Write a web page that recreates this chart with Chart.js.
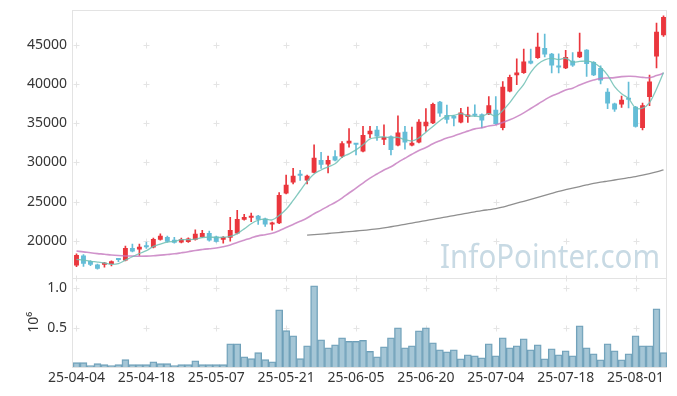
<!DOCTYPE html>
<html>
<head>
<meta charset="utf-8">
<script src="https://cdn.jsdelivr.net/npm/chart.js@4.4.1/dist/chart.umd.min.js"></script>
<style>
  html, body { margin: 0; padding: 0; background: #fff; }
</style>
</head>
<body>
<canvas id="stock" width="677" height="396"></canvas>
<script>
// trading days (KRX), 25-04-04 .. 25-08-07
const dates = [
  '25-04-04','25-04-07','25-04-08','25-04-09','25-04-10','25-04-11','25-04-14','25-04-15','25-04-16','25-04-17',
  '25-04-18','25-04-21','25-04-22','25-04-23','25-04-24','25-04-25','25-04-28','25-04-29','25-04-30','25-05-02',
  '25-05-07','25-05-08','25-05-09','25-05-12','25-05-13','25-05-14','25-05-15','25-05-16','25-05-19','25-05-20',
  '25-05-21','25-05-22','25-05-23','25-05-26','25-05-27','25-05-28','25-05-29','25-05-30','25-06-02','25-06-04',
  '25-06-05','25-06-09','25-06-10','25-06-11','25-06-12','25-06-13','25-06-16','25-06-17','25-06-18','25-06-19',
  '25-06-20','25-06-23','25-06-24','25-06-25','25-06-26','25-06-27','25-06-30','25-07-01','25-07-02','25-07-03',
  '25-07-04','25-07-07','25-07-08','25-07-09','25-07-10','25-07-11','25-07-14','25-07-15','25-07-16','25-07-17',
  '25-07-18','25-07-21','25-07-22','25-07-23','25-07-24','25-07-25','25-07-28','25-07-29','25-07-30','25-07-31',
  '25-08-01','25-08-04','25-08-05','25-08-06','25-08-07'
];

const priceTicks = [20000, 25000, 30000, 35000, 40000, 45000];
const volumeTicks = [500000, 1000000];

const opens = [
  16850,18150,17450,17000,16950,17050,17600,17500,19100,18900,
  19250,19150,20150,20500,20150,19800,19850,20150,20500,21000,
  20550,20150,20400,20950,22700,22950,23200,22850,22100,22250,
  26050,27450,28350,27700,28700,30300,29750,30800,30750,32400,
  32400,31400,33600,34150,32900,33350,32150,33900,32150,32550,
  34600,35000,37750,36050,35950,35100,35800,36000,36150,36150,
  36700,34400,39050,41100,41400,42950,43300,44600,43850,42300,
  42000,42950,43400,44350,42800,42050,39000,37500,37400,38050,
  37100,34400,38350,43500,46200
];
const highs = [
  18350,18250,17500,17050,17250,17450,17700,19350,19600,19600,
  19850,20350,20900,20600,20450,20350,20400,21400,21350,21250,
  20600,20550,23000,23900,23400,23550,23250,22900,22400,26150,
  28400,29250,29000,28400,32250,31300,30800,31500,32650,34300,
  32450,34600,34600,34600,34800,33400,35950,34600,34500,35450,
  36850,37550,37800,37300,36000,36900,37050,37350,36200,38400,
  38400,40300,41150,43200,44450,44450,46500,46350,43900,43850,
  44300,44000,46500,44400,42850,42300,39400,37550,38450,40250,
  37150,37550,41150,47750,48700
];
const lows = [
  16700,16750,16850,16400,16650,16800,17350,17450,18600,18150,
  19050,19100,20100,19850,19700,19750,19800,20100,20450,19950,
  19850,19700,19950,20900,22650,22450,22100,21850,21350,22200,
  26000,27250,27700,27250,28650,29250,28650,30200,30600,31950,
  30950,31350,33150,32800,32250,30950,32100,31700,32100,32500,
  33950,34950,35850,35000,34650,35050,35100,35850,34400,36100,
  34850,34150,39000,39900,41350,42550,43250,43450,41400,41400,
  41950,42250,43350,40950,41050,40000,36850,36500,37000,36950,
  34500,34150,37250,42050,46050
];
const closes = [
  18200,17100,16950,16450,17200,17400,17550,19100,18650,19250,
  19200,20250,20650,19900,19750,20200,20300,20900,21000,20050,
  19900,20500,21400,22800,23050,23200,22700,22100,22350,25850,
  27150,28300,28300,28300,30600,29700,30300,30250,32450,32750,
  32250,33500,34050,33300,33250,31600,33800,32550,32500,35200,
  35200,37450,36250,35450,35600,36350,36100,35950,35350,37300,
  34900,39650,40900,41450,42850,42600,44750,43750,42350,42100,
  43450,42350,44100,42550,41100,40450,37500,36750,38000,38000,
  34550,37300,40300,46650,48550
];
const volumes = [
  55000,55000,17000,42000,30000,17000,30000,93000,30000,30000,
  30000,67000,42000,42000,17000,30000,30000,80000,30000,30000,
  30000,30000,296000,296000,131000,106000,182000,93000,67000,729000,
  462000,398000,106000,271000,1034000,347000,245000,283000,372000,326000,
  326000,339000,198000,131000,258000,372000,500000,245000,271000,461000,
  500000,309000,220000,194000,220000,105000,156000,143000,118000,296000,
  143000,372000,245000,271000,360000,220000,283000,105000,232000,156000,
  207000,143000,525000,245000,169000,92000,296000,207000,92000,169000,
  398000,271000,271000,741000,182000
];

// moving-average lines
const ma5 = [
  17650,17550,17400,17300,17180,17020,17110,17540,17980,18390,
  18750,19290,19600,19850,19950,20150,20160,20210,20430,20490,
  20430,20470,20570,20930,21530,22190,22630,22770,22680,23240,
  24030,25150,26390,27580,28530,29040,29440,29830,30660,31090,
  31600,32240,33000,33170,33270,33140,33200,32900,32740,33130,
  33850,34580,35320,35910,35990,36220,35950,35890,35870,36210,
  35920,36630,37620,38840,39950,41490,42510,43080,43260,43110,
  43280,42800,42870,42910,42710,42110,41140,39670,38760,38140,
  36960,36920,37630,39360,41470
];
const ma20 = [
  18700,18600,18480,18380,18300,18200,18130,18080,18060,18050,
  18060,18100,18180,18260,18350,18480,18620,18780,18900,19000,
  19090,19260,19480,19800,20090,20380,20640,20790,20970,21300,
  21700,22100,22490,22910,23450,23920,24420,24890,25460,26100,
  26720,27370,28000,28520,29030,29450,30010,30530,31040,31510,
  31910,32370,32760,33120,33370,33700,33990,34280,34420,34650,
  34780,35090,35430,35840,36320,36870,37420,37980,38470,38820,
  39230,39470,39870,40220,40500,40700,40770,40810,40940,40980,
  40960,40840,40810,41070,41360
];
// long average only starts on 25-05-26 (index 33)
const maLong = new Array(33).fill(null).concat([
  20730,20800,20870,20940,21020,21100,21180,21260,21340,21430,
  21530,21660,21800,21950,22110,22270,22430,22590,22750,22910,
  23070,23230,23390,23550,23710,23860,23980,24100,24300,24550,
  24800,25050,25300,25550,25800,26050,26300,26520,26730,26930,
  27130,27320,27480,27620,27760,27900,28050,28200,28380,28580,
  28800,29050
]);

const UP = '#ea363d';
const DOWN = '#64bdd7';
const candleColors = closes.map((c, i) => c >= opens[i] ? UP : DOWN);

Chart.defaults.font.family = '"Noto Sans", sans-serif';
Chart.defaults.font.size = 14;
Chart.defaults.color = '#363636';

// frame, small "+" grid marks and the watermark
const framePlugin = {
  id: 'frame',
  beforeDatasetsDraw(chart) {
    const { ctx, scales: { x, y, yv } } = chart;
    ctx.save();

    ctx.font = '33px "Noto Sans"';
    ctx.fillStyle = '#c8dae4';
    ctx.textBaseline = 'alphabetic';
    ctx.textAlign = 'left';
    ctx.fillText('InfoPointer.com', x.right - 227, y.bottom - 10, 220);

    ctx.strokeStyle = '#e3e3e3';
    ctx.lineWidth = 1;
    ctx.strokeRect(Math.round(x.left) - 0.5, Math.round(y.top) + 0.5,
      Math.round(x.right - x.left), Math.round(y.bottom - y.top));
    ctx.strokeRect(Math.round(x.left) - 0.5, Math.round(yv.top) + 0.5,
      Math.round(x.right - x.left), Math.round(yv.bottom - yv.top));

    ctx.strokeStyle = '#e4e4e4';
    const rows = y.ticks.map(t => y.getPixelForValue(t.value))
      .concat(yv.ticks.map(t => yv.getPixelForValue(t.value)));
    rows.push(y.bottom);
    for (let i = 0; i < dates.length; i += 10) {
      const px = Math.round(x.getPixelForValue(i)) + 0.5;
      rows.forEach(r => {
        const py = Math.round(r) + 0.5;
        ctx.beginPath();
        ctx.moveTo(px - 3, py); ctx.lineTo(px + 3, py);
        ctx.moveTo(px, py - 3); ctx.lineTo(px, py + 3);
        ctx.stroke();
      });
    }
    ctx.restore();
  }
};

// same width for both stacked y axes, and no extra label padding above/below
const fixWidth = scale => {
  scale.width = 73;
  scale.paddingTop = 0;
  scale.paddingBottom = 0;
};

new Chart(document.getElementById('stock'), {
  type: 'bar',
  data: {
    labels: dates,
    datasets: [
      {
        type: 'line', label: 'MA5', data: ma5, yAxisID: 'y', order: 0,
        borderColor: 'rgba(110,192,180,0.85)', borderWidth: 1.3,
        pointRadius: 0, tension: 0.4, fill: false
      },
      {
        type: 'line', label: 'MA20', data: ma20, yAxisID: 'y', order: 0,
        borderColor: 'rgba(196,120,190,0.8)', borderWidth: 1.6,
        pointRadius: 0, tension: 0.4, fill: false
      },
      {
        type: 'line', label: 'MA long', data: maLong, yAxisID: 'y', order: 0,
        borderColor: '#8f8f8f', borderWidth: 1.3,
        pointRadius: 0, tension: 0.4, fill: false
      },
      {
        label: 'body', yAxisID: 'y', order: 1, grouped: false,
        data: opens.map((o, i) => [o, closes[i]]),
        backgroundColor: candleColors, borderWidth: 0,
        barPercentage: 0.7, categoryPercentage: 1, minBarLength: 2
      },
      {
        label: 'wick', yAxisID: 'y', order: 2, grouped: false,
        data: lows.map((l, i) => [l, highs[i]]),
        backgroundColor: candleColors, borderWidth: 0,
        barThickness: 1
      },
      {
        label: 'volume', yAxisID: 'yv', order: 3, grouped: false,
        data: volumes,
        backgroundColor: 'rgba(140,182,203,0.78)',
        borderColor: '#6e9fb8', borderWidth: 1,
        barPercentage: 1, categoryPercentage: 1
      }
    ]
  },
  options: {
    responsive: false,
    animation: false,
    layout: { padding: { top: 10, right: 10, bottom: 8, left: 0 } },
    plugins: { legend: { display: false }, tooltip: { enabled: false } },
    scales: {
      x: {
        offset: true,
        grid: { display: false, drawTicks: false },
        border: { display: false },
        afterFit: s => { s.height = 21; },
        ticks: {
          autoSkip: false, maxRotation: 0, padding: 3,
          callback: (v, i) => (i % 10 === 0 ? dates[i] : null)
        }
      },
      yv: {
        position: 'left', stack: 'price', stackWeight: 1,
        min: 0, max: 1136000,
        grid: { display: false, drawTicks: false },
        border: { display: false },
        afterFit: fixWidth,
        afterBuildTicks: s => { s.ticks = volumeTicks.map(v => ({ value: v })); },
        ticks: { padding: 6, autoSkip: false, callback: v => (v / 1e6).toFixed(1) },
        title: { display: true, text: '10⁶', padding: { top: 26, bottom: 0 }, font: { size: 14 } }
      },
      y: {
        position: 'left', stack: 'price', stackWeight: 3,
        min: 15300, max: 49430,
        grid: { display: false, drawTicks: false },
        border: { display: false },
        afterFit: fixWidth,
        afterBuildTicks: s => { s.ticks = priceTicks.map(v => ({ value: v })); },
        ticks: { padding: 6, autoSkip: false, callback: v => String(v) }
      }
    }
  },
  plugins: [framePlugin]
});
</script>
</body>
</html>
